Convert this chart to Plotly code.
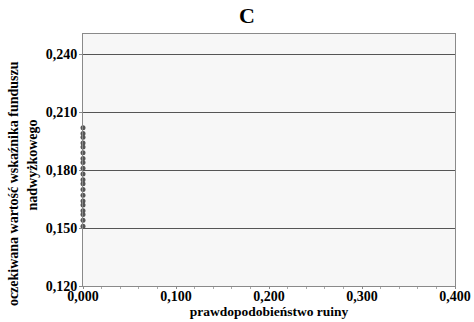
import plotly.graph_objects as go

ruin_prob = [0.0] * 20
expected_ratio = [0.151, 0.154, 0.157, 0.159, 0.162, 0.164, 0.167, 0.170, 0.173, 0.175,
                  0.178, 0.181, 0.184, 0.186, 0.189, 0.192, 0.194, 0.197, 0.199, 0.202]
x_ticks = [0.0, 0.1, 0.2, 0.3, 0.4]
y_ticks = [0.12, 0.15, 0.18, 0.21, 0.24]
y_title_lines = ["oczekiwana wartość wskaźnika funduszu", "nadwyżkowego"]

font_family = "Liberation Serif"

fig = go.Figure()
fig.add_trace(go.Scatter(
    x=ruin_prob, y=expected_ratio, mode="markers",
    marker=dict(size=5, color="#555555"),
    cliponaxis=False, showlegend=False,
))

fig.update_layout(
    width=474, height=322,
    margin=dict(l=83, r=19, t=34, b=36),
    paper_bgcolor="white",
    plot_bgcolor="#f7f7f7",
    separators=",.",
    font=dict(family=font_family, color="black", size=13),
    title=dict(text="<b>C</b>", x=0.521, xanchor="center", y=0.975, yanchor="top",
               font=dict(family=font_family, size=22, color="black")),
    xaxis=dict(
        range=[0, 0.4], tickvals=x_ticks, tickformat=".3f",
        showgrid=False, zeroline=False, automargin=False,
        showline=True, linecolor="#8a8a8a", linewidth=1, mirror=True,
        ticks="outside", ticklen=2, tickcolor="#8a8a8a",
        ticklabelstandoff=-5,
        minor=dict(ticks="outside", ticklen=2, dtick=0.02, tickcolor="#aaaaaa"),
        tickfont=dict(family=font_family, size=14, color="black", weight="bold"),
        title=dict(text="<b>prawdopodobieństwo ruiny</b>", standoff=0,
                   font=dict(family=font_family, size=13.5, color="black")),
    ),
    yaxis=dict(
        range=[0.12, 0.2505], tickvals=y_ticks, tickformat=".3f",
        showgrid=True, gridcolor="#555555", gridwidth=1.4,
        zeroline=False, automargin=False,
        showline=True, linecolor="#8a8a8a", linewidth=1, mirror=True,
        ticks="outside", ticklen=3, tickcolor="#8a8a8a",
        ticklabelstandoff=-1,
        tickfont=dict(family=font_family, size=14, color="black", weight="bold"),
    ),
    annotations=[
        dict(text="<b>" + y_title_lines[0] + "</b>", textangle=-90,
             xref="paper", yref="paper", x=-0.185, y=0.405,
             xanchor="center", yanchor="middle", showarrow=False,
             font=dict(family=font_family, size=14, color="black")),
        dict(text="<b>" + y_title_lines[1] + "</b>", textangle=-90,
             xref="paper", yref="paper", x=-0.136, y=0.48,
             xanchor="center", yanchor="middle", showarrow=False,
             font=dict(family=font_family, size=14, color="black")),
    ],
)

fig.write_html("out.html")
